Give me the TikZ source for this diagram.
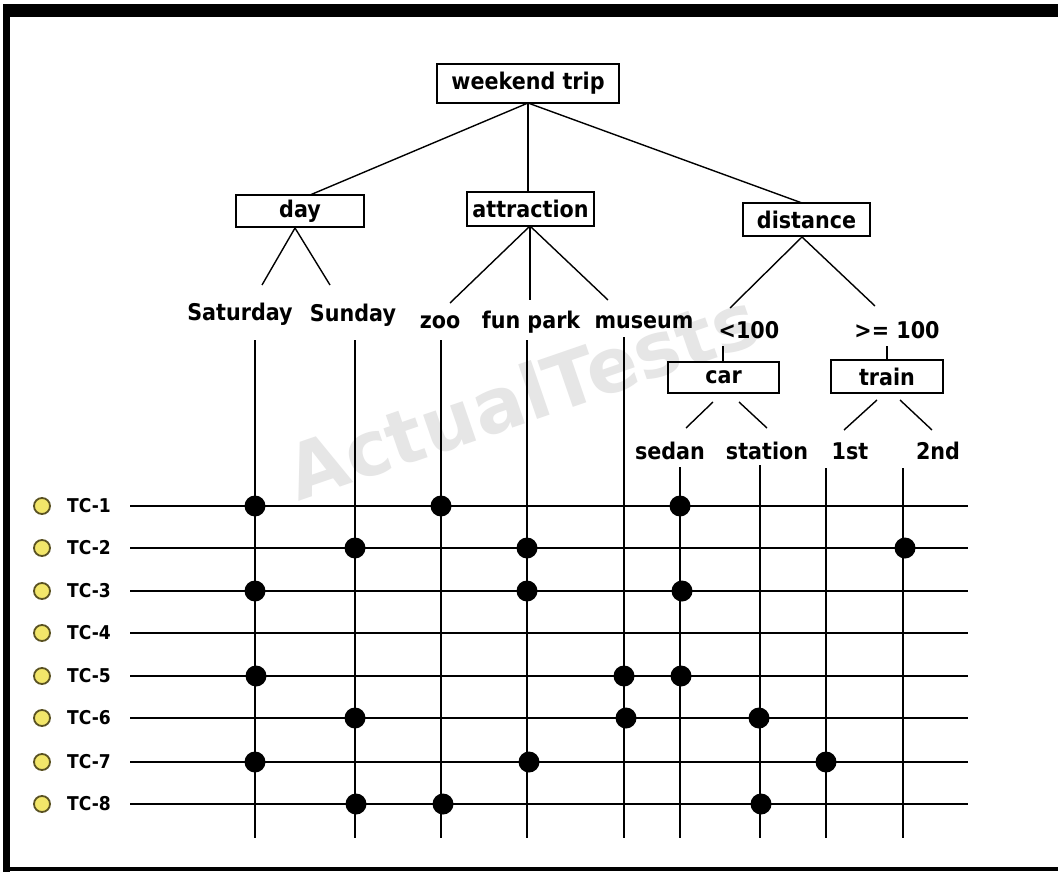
\documentclass[tikz,border=0pt]{standalone}
\usepackage{fontspec}
\setmainfont{DejaVu Sans}
\newfontfamily\cfont[FakeStretch=0.9]{DejaVu Sans}
\definecolor{tcfill}{HTML}{F2E66A}
\definecolor{tcedge}{HTML}{5A5222}
\definecolor{wmark}{HTML}{E6E6E6}
\begin{document}
\begin{tikzpicture}[x=1pt,y=-1pt,
  txt/.style={font=\cfont\bfseries\fontsize{23}{26}\selectfont,inner sep=0pt},
  box/.style={txt,draw,line width=2.2pt},
  tree/.style={line width=1.4pt},
  grid/.style={line width=1.8pt},
  dot/.style={circle,fill=black,inner sep=0pt,minimum size=21pt},
  tcmark/.style={circle,draw=tcedge,fill=tcfill,line width=1.8pt,minimum size=16pt,inner sep=0pt},
  tclbl/.style={font=\cfont\bfseries\fontsize{19}{21}\selectfont,inner sep=0pt,anchor=west}]
\useasboundingbox (0,0) rectangle (1058,872);
\fill[white] (0,0) rectangle (1058,872);
% frame
\fill[black] (3,4) rectangle (1058,17);
\fill[black] (3,4) rectangle (10,872);
\fill[black] (3,867) rectangle (1058,871);
% watermark
\node[wmark,font=\bfseries\fontsize{76}{86}\selectfont,rotate=19,inner sep=0pt] (wm) at (522,395) {ActualTests};
% tree boxes
\node[box,minimum width=182pt,minimum height=39pt] (wt) at (528,83.5) {weekend trip};
\node[box,minimum width=128pt,minimum height=32pt] (day) at (300,211) {day};
\node[box,minimum width=127pt,minimum height=34pt] (att) at (530.5,209) {attraction};
\node[box,minimum width=127pt,minimum height=33pt] (dist) at (806.5,219.5) {distance};
\node[box,minimum width=111pt,minimum height=31pt] (car) at (723.5,377.5) {car};
\node[box,minimum width=112pt,minimum height=33pt] (train) at (887,376.5) {train};
% leaf labels
\node[txt] (sat) at (240,314) {Saturday};
\node[txt] (sun) at (353,315) {Sunday};
\node[txt] (zoo) at (440,322) {zoo};
\node[txt] (fun) at (531,322) {fun park};
\node[txt] (mus) at (644,322) {museum};
\node[txt] (lt) at (749,330) {<100};
\node[txt] (ge) at (897,330) {>= 100};
\node[txt] (sed) at (670,451) {sedan};
\node[txt] (sta) at (767,451) {station};
\node[txt] (fst) at (850,451) {1st};
\node[txt] (snd) at (938,451) {2nd};
% tree connector end points
\coordinate (wtB) at (528,103);
\coordinate (dayT) at (310,195);
\coordinate (attT) at (528,192);
\coordinate (distT) at (802,203);
\coordinate (dayB) at (295,228);
\coordinate (satE) at (262,285);
\coordinate (sunE) at (330,285);
\coordinate (attB) at (530,226);
\coordinate (zooE) at (450,303);
\coordinate (funE) at (530,300);
\coordinate (musE) at (608,300);
\coordinate (distB) at (802,237);
\coordinate (ltE) at (730,308);
\coordinate (geE) at (875,306);
\coordinate (ltB) at (723,346);
\coordinate (carT) at (723,362);
\coordinate (geB) at (887,346);
\coordinate (trainT) at (887,360);
\coordinate (carB1) at (713,402);
\coordinate (carB2) at (739,402);
\coordinate (sedE) at (686,428);
\coordinate (staE) at (767,428);
\coordinate (trB1) at (877,400);
\coordinate (trB2) at (900,400);
\coordinate (fstE) at (844,430);
\coordinate (sndE) at (932,430);
\draw[tree] (wtB) -- (dayT);
\draw[tree] (wtB) -- (attT);
\draw[tree] (wtB) -- (distT);
\draw[tree] (dayB) -- (satE);
\draw[tree] (dayB) -- (sunE);
\draw[tree] (attB) -- (zooE);
\draw[tree] (attB) -- (funE);
\draw[tree] (attB) -- (musE);
\draw[tree] (distB) -- (ltE);
\draw[tree] (distB) -- (geE);
\draw[tree] (ltB) -- (carT);
\draw[tree] (geB) -- (trainT);
\draw[tree] (carB1) -- (sedE);
\draw[tree] (carB2) -- (staE);
\draw[tree] (trB1) -- (fstE);
\draw[tree] (trB2) -- (sndE);
% grid columns
\foreach \n/\x/\t in {c1/255/340,c2/355/340,c3/441/340,c4/527/340,c5/624/337,c6/680/467,c7/760/465,c8/826/468,c9/903/468}{
  \coordinate (\n t) at (\x,\t);
  \coordinate (\n b) at (\x,838);
  \draw[grid] (\n t) -- (\n b);
}
% grid rows
\foreach \i/\y in {1/506,2/548,3/591,4/633,5/676,6/718,7/762,8/804}{
  \coordinate (r\i l) at (130,\y);
  \coordinate (r\i r) at (968,\y);
  \draw[grid] (r\i l) -- (r\i r);
  \node[tcmark] (m\i) at (42,\y) {};
  \node[tclbl] (tc\i) at (67,\y) {TC-\i};
}
% dots
\foreach \i/\c/\x in {1/1/255,1/3/441,1/6/680,
                      2/2/355,2/4/527,2/9/905,
                      3/1/255,3/4/527,3/6/682,
                      5/1/256,5/5/624,5/6/681,
                      6/2/355,6/5/626,6/7/759,
                      7/1/255,7/4/529,7/8/826,
                      8/2/356,8/3/443,8/7/761}{
  \node[dot] (d\i-\c) at (\x,{{506,548,591,633,676,718,762,804}[\i-1]}) {};
}
\end{tikzpicture}
\end{document}
